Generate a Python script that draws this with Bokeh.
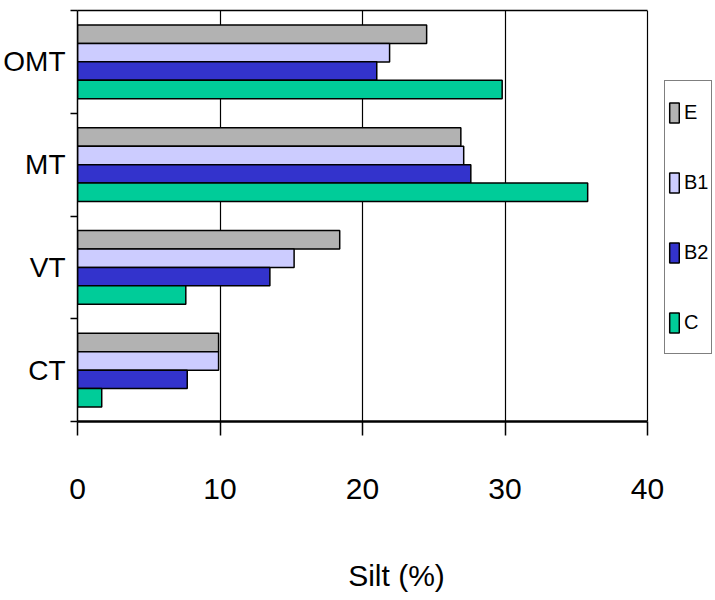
from bokeh.plotting import figure
from bokeh.models import (ColumnDataSource, FixedTicker, Legend, LegendItem, Range1d,
                          LinearAxis)
from bokeh.embed import file_html
from bokeh.resources import INLINE

categories = ["CT", "VT", "MT", "OMT"]
series = ["E", "B1", "B2", "C"]
E = [9.9, 18.4, 26.9, 24.5]
B1 = [9.9, 15.2, 27.1, 21.9]
B2 = [7.7, 13.5, 27.6, 21.0]
C = [1.7, 7.6, 35.8, 29.8]
x_ticks = [0, 10, 20, 30, 40]
x_max = 40

colors = ["#b2b2b2", "#ccccff", "#3333cc", "#00cc99"]
offsets = [0.27, 0.09, -0.09, -0.27]
FONT = "'Liberation Sans', Arial, sans-serif"

# frame spans 77..715 px; value 40 sits at 647 px (legend lives in the extra room)
p = figure(width=715, height=600, output_backend="svg", toolbar_location=None,
           x_range=Range1d(0, 44.77), y_range=Range1d(0, 4),
           min_border_left=77, min_border_right=0, min_border_top=10,
           min_border_bottom=179)

items = []
for name, vals, col, off in zip(series, [E, B1, B2, C], colors, offsets):
    src = ColumnDataSource(dict(y=[i + 0.5 + off for i in range(len(categories))],
                                right=vals))
    r = p.hbar(y="y", left=0, right="right", height=0.18, source=src,
               fill_color=col, line_color="black", line_width=1.5)
    items.append(LegendItem(label=name, renderers=[r]))

# x axis
p.xaxis.bounds = (0, x_max)
p.xaxis.ticker = FixedTicker(ticks=x_ticks)
p.xaxis.major_tick_out = 14
p.xaxis.major_tick_in = 0
p.xaxis.major_tick_line_color = "black"
p.xaxis.major_tick_line_width = 1.5
p.xaxis.axis_line_color = "black"
p.xaxis.axis_line_width = 2.5
p.xaxis.major_label_text_font = FONT
p.xaxis.major_label_text_font_size = "30px"
p.xaxis.major_label_text_color = "black"
p.xaxis.major_label_standoff = 43
p.xaxis.axis_label = "Silt (%)"
p.xaxis.axis_label_text_font = FONT
p.xaxis.axis_label_text_font_size = "30px"
p.xaxis.axis_label_text_font_style = "normal"
p.xaxis.axis_label_text_color = "black"
p.xaxis.axis_label_standoff = 57
p.xaxis.minor_tick_line_color = None

# top border line of the plot area
top = LinearAxis(bounds=(0, x_max), ticker=FixedTicker(ticks=[]),
                 major_label_text_font_size="0px", axis_line_color="black",
                 axis_line_width=1.5, major_tick_line_color=None,
                 minor_tick_line_color=None)
p.add_layout(top, "above")

# y axis
p.yaxis.ticker = FixedTicker(ticks=[0.5, 1.5, 2.5, 3.5], minor_ticks=[0, 1, 2, 3, 4])
p.yaxis.major_label_overrides = {0.5 + i: c for i, c in enumerate(categories)}
p.yaxis.major_tick_line_color = None
p.yaxis.major_tick_out = 0
p.yaxis.minor_tick_line_color = "black"
p.yaxis.minor_tick_line_width = 1.5
p.yaxis.minor_tick_out = 7
p.yaxis.minor_tick_in = 0
p.yaxis.axis_line_color = "black"
p.yaxis.axis_line_width = 1.5
p.yaxis.major_label_text_font = FONT
p.yaxis.major_label_text_font_size = "28px"
p.yaxis.major_label_text_color = "black"
p.yaxis.major_label_standoff = 5

# grid (line at 40 is the right border of the plot area)
p.xgrid.ticker = FixedTicker(ticks=x_ticks[1:])
p.xgrid.grid_line_color = "black"
p.xgrid.grid_line_width = 1.2
p.ygrid.grid_line_color = None
p.outline_line_color = None

legend = Legend(items=items, location=(587, 67),
                label_text_font=FONT, label_text_font_size="20px",
                label_text_color="black",
                glyph_width=12, glyph_height=25, label_height=56,
                label_standoff=4, spacing=14, padding=3, margin=0,
                border_line_color="black", border_line_width=1.5,
                background_fill_color="white", background_fill_alpha=1)
p.add_layout(legend, "center")

open("out.html", "w").write(file_html(p, INLINE))
